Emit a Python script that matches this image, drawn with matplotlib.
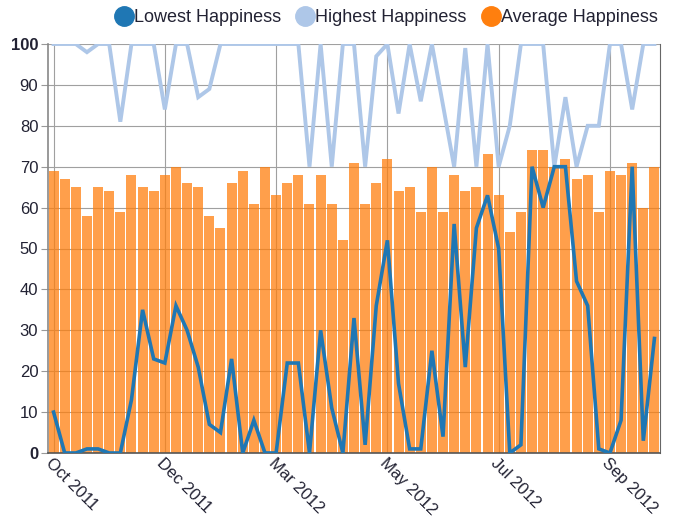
import numpy as np
import matplotlib
matplotlib.use('Agg')
import matplotlib.pyplot as plt
from matplotlib.lines import Line2D

plt.rcParams['font.family'] = ['Liberation Sans', 'DejaVu Sans']

# weekly happiness scores, Oct 2011 - Sep 2012
week_labels = ['Oct 2011', 'Dec 2011', 'Mar 2012', 'May 2012', 'Jul 2012', 'Sep 2012']
label_every = 10

average = [69, 67, 65, 58, 65, 64, 59, 68, 65, 64,
           68, 70, 66, 65, 58, 55, 66, 69, 61, 70,
           63, 66, 68, 61, 68, 61, 52, 71, 61, 66,
           72, 64, 65, 59, 70, 59, 68, 64, 65, 73,
           63, 54, 59, 74, 74, 70, 72, 67, 68, 59,
           69, 68, 71, 60, 70]

highest = [100, 100, 100, 98, 100, 100, 81, 100, 100, 100,
           84, 100, 100, 87, 89, 100, 100, 100, 100, 100,
           100, 100, 100, 70, 100, 70, 100, 100, 70, 97,
           100, 83, 100, 86, 100, 85, 70, 99, 70, 100,
           70, 80, 100, 100, 100, 70, 87, 70, 80, 80,
           100, 100, 84, 100, 100]

lowest = [10, 0, 0, 1, 1, 0, 0, 13, 35, 23,
          22, 36, 30, 21, 7, 5, 23, 0, 8, 0,
          0, 22, 22, 0, 30, 11, 0, 33, 2, 36,
          52, 17, 1, 1, 25, 4, 56, 21, 55, 63,
          50, 0, 2, 70, 60, 70, 70, 42, 36, 1,
          0, 8, 70, 3, 28]

c_low = '#1f77b4'
c_high = '#aec7e8'
c_avg = '#ff7f0e'

x = np.arange(len(average))

fig = plt.figure(figsize=(6.74, 5.25), dpi=100)
ax = fig.add_axes([48 / 674, 1 - 453 / 525, 612 / 674, 409 / 525])

ax.bar(x, average, width=0.9, color=c_avg, alpha=0.75, zorder=2)
ax.plot(x, highest, color=c_high, lw=2.8, zorder=3, solid_joinstyle='miter')
ax.plot(x, lowest, color=c_low, lw=2.6, zorder=4, solid_joinstyle='miter')

ax.set_xlim(-0.5, len(average) - 0.5)
ax.set_ylim(0, 100)
ax.set_yticks(np.arange(0, 101, 10))
ax.set_xticks(x[::label_every])
ax.set_xticklabels(week_labels)

ax.grid(True, color='#a0a0a0', lw=0.8, zorder=0)
ax.set_axisbelow(True)

ax.spines['top'].set_visible(False)
ax.spines['left'].set_color('#888888')
ax.spines['right'].set_color('#666666')
ax.spines['bottom'].set_color('#555555')
ax.spines['left'].set_linewidth(1.2)
ax.spines['bottom'].set_linewidth(1.2)

ax.tick_params(axis='y', length=5, color='#999999', labelsize=12, labelcolor='#222233', pad=2)
ax.tick_params(axis='x', length=0, labelsize=12, labelcolor='#222233', pad=2)
for lab in ax.get_yticklabels():
    if lab.get_text() in ('0', '100'):
        lab.set_fontweight('bold')
plt.setp(ax.get_xticklabels(), rotation=-45, ha='left', va='top', rotation_mode='anchor')

handles = [Line2D([], [], marker='o', ls='none', ms=14, color=c, label=l)
           for c, l in [(c_low, 'Lowest Happiness'), (c_high, 'Highest Happiness'),
                        (c_avg, 'Average Happiness')]]
fig.legend(handles=handles, loc='upper right', bbox_to_anchor=(667 / 674, 1.0),
           ncol=3, frameon=False, fontsize=13, handlelength=0.8, handletextpad=0.15,
           columnspacing=0.95, labelcolor='#222233', borderaxespad=0.1)

fig.savefig('out.png', dpi=100)
